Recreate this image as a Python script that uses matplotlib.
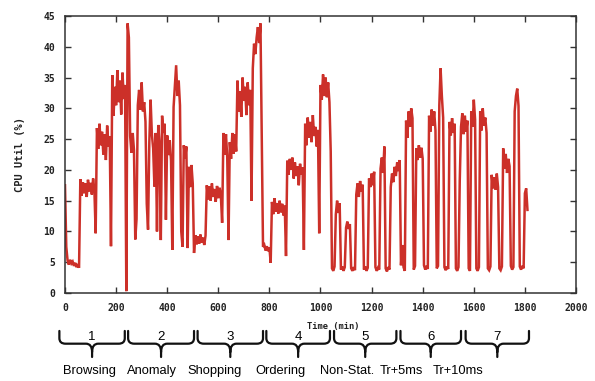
import numpy as np
import matplotlib
matplotlib.use("Agg")
import matplotlib.pyplot as plt
from matplotlib.path import Path
from matplotlib.patches import PathPatch
from matplotlib import transforms


# CPU utilisation (%), one value every 5 minutes, one row per hour
sample_step = 5
cpu_util = [
    17.5, 7.5, 5.3, 4.6, 5.4, 4.8, 5.1, 4.4, 4.9, 4.2, 4.7, 4.1,
    18.5, 15.8, 18.0, 16.2, 17.8, 15.6, 18.4, 16.5, 17.9, 16.0, 18.6, 16.8,
    9.7, 26.8, 23.4, 27.5, 24.0, 26.2, 22.5, 25.8, 21.6, 27.2, 23.8, 25.5,
    7.6, 35.4, 28.8, 33.5, 30.5, 36.2, 31.0, 34.5, 29.0, 35.8, 31.5, 33.8,
    0.3, 43.8, 41.5, 25.5, 22.8, 26.0, 23.2, 8.7, 12.0, 30.5, 33.0, 29.8,
    34.2, 29.5, 31.0, 27.8, 14.5, 10.3, 24.5, 31.4, 25.8, 23.5, 17.3, 26.0,
    10.0, 27.3, 24.2, 8.6, 28.8, 26.0, 27.5, 11.9, 25.6, 22.4, 24.8, 21.5,
    7.0, 30.2, 33.5, 37.0, 32.0, 34.5, 30.5, 10.0, 7.5, 24.0, 21.8, 23.8,
    7.3, 20.5, 17.2, 20.8, 17.8, 6.5, 9.4, 7.9, 9.2, 8.0, 9.5, 8.2,
    9.0, 7.8, 9.3, 17.5, 15.2, 17.3, 15.0, 17.8, 15.6, 16.9, 14.8, 17.4,
    15.4, 17.1, 15.8, 11.4, 26.0, 22.5, 25.8, 22.0, 8.6, 24.5, 21.8, 26.0,
    22.6, 25.8, 23.0, 34.5, 29.5, 32.8, 28.6, 35.0, 31.2, 33.5, 28.9, 34.2,
    30.5, 33.0, 15.0, 36.5, 40.5, 38.8, 41.5, 43.2, 40.6, 43.8, 25.0, 7.5,
    7.8, 6.9, 7.6, 6.8, 7.4, 4.9, 14.8, 12.8, 15.4, 13.2, 14.6, 12.9,
    15.0, 13.1, 14.5, 12.6, 14.2, 6.0, 21.5, 19.2, 21.8, 20.0, 22.0, 18.6,
    21.2, 19.0, 20.6, 17.5, 21.0, 19.2, 20.4, 7.0, 27.5, 24.0, 28.5, 25.2,
    27.8, 24.5, 28.9, 25.5, 27.0, 23.8, 26.5, 9.7, 33.8, 31.4, 35.5, 32.0,
    35.0, 31.8, 34.2, 31.0, 23.0, 4.0, 3.6, 4.3, 12.8, 15.0, 13.0, 14.6,
    3.8, 4.3, 3.6, 4.2, 10.6, 11.6, 10.4, 11.2, 4.0, 3.6, 4.2, 3.7,
    16.0, 17.8, 15.6, 18.2, 16.5, 17.6, 3.8, 4.3, 3.6, 4.1, 18.6, 17.2,
    19.4, 17.5, 19.7, 4.2, 3.6, 4.1, 3.8, 20.2, 22.0, 19.5, 23.8, 4.0,
    3.5, 4.2, 3.8, 17.2, 19.4, 18.0, 20.5, 19.0, 21.2, 19.8, 21.6, 4.5,
    7.8, 4.2, 3.6, 28.0, 25.2, 29.5, 27.0, 30.0, 28.4, 3.8, 4.4, 23.5,
    21.6, 24.0, 22.0, 23.6, 21.8, 4.5, 3.8, 4.4, 3.9, 28.8, 26.2, 29.8,
    27.2, 29.5, 26.4, 4.0, 4.4, 30.5, 36.5, 32.0, 28.5, 4.2, 3.7, 4.3,
    3.9, 27.8, 25.6, 28.4, 26.0, 27.5, 4.0, 3.6, 4.2, 18.2, 27.0, 29.2,
    25.8, 28.8, 26.2, 28.0, 4.0, 3.6, 29.5, 27.0, 31.4, 28.2, 4.0, 3.6,
    4.2, 29.5, 26.4, 30.0, 27.2, 28.5, 26.0, 4.0, 3.7, 4.3, 19.2, 17.0,
    18.8, 16.8, 19.4, 17.2, 4.0, 3.7, 4.3, 23.5, 20.2, 22.6, 19.5, 21.8,
    20.6, 4.4, 3.8, 4.2, 29.5, 32.0, 33.2, 30.4, 4.3, 3.8, 4.4, 4.0,
    16.2, 17.0, 13.5,
]

# workload phases shown under the time axis (minutes)
phase_numbers = ["1", "2", "3", "4", "5", "6", "7"]
phase_names = ["Browsing", "Anomaly", "Shopping", "Ordering",
               "Non-Stat.", "Tr+5ms", "Tr+10ms"]
brace_start = [-22, 247, 519, 788, 1053, 1313, 1568]
brace_end = [234, 505, 775, 1037, 1297, 1550, 1816]
name_x = [94, 341, 585, 845, 1104, 1315, 1538]

x_ticks = [0, 200, 400, 600, 800, 1000, 1200, 1400, 1600, 1800, 2000]
y_ticks = [0, 5, 10, 15, 20, 25, 30, 35, 40, 45]

mono = "DejaVu Sans Mono"
sans = "Liberation Sans"
red = "#cc3029"


def draw_brace(ax, x0, x1, trans, yt=-0.137, ym=-0.183, yb=-0.231, r=24):
    xc = (x0 + x1) / 2.0
    yd = ym - 0.03
    verts = [
        (x0, yt), (x0, ym + 0.02), (x0, ym), (x0 + r, ym),
        (xc - r, ym), (xc, ym), (xc, yd), (xc, yb),
        (xc, yd), (xc, ym), (xc + r, ym), (x1 - r, ym),
        (x1, ym), (x1, ym + 0.02), (x1, yt),
    ]
    codes = [Path.MOVETO, Path.LINETO, Path.CURVE3, Path.CURVE3,
             Path.LINETO, Path.CURVE3, Path.CURVE3, Path.LINETO,
             Path.MOVETO, Path.CURVE3, Path.CURVE3, Path.LINETO,
             Path.CURVE3, Path.CURVE3, Path.LINETO]
    patch = PathPatch(Path(verts, codes), transform=trans, fill=False,
                      edgecolor="#111111", lw=1.6, clip_on=False,
                      capstyle="round", joinstyle="round")
    ax.add_patch(patch)


fig = plt.figure(figsize=(5.95, 3.81), dpi=100)
ax = fig.add_axes([65 / 595, 1 - 293 / 381, 511 / 595, 277 / 381])

t = np.arange(len(cpu_util)) * sample_step
ax.plot(t, cpu_util, color=red, lw=1.8, solid_joinstyle="miter")

ax.set_xlim(0, 2000)
ax.set_ylim(0, 45)
ax.set_xticks(x_ticks)
ax.set_yticks(y_ticks)
ax.tick_params(direction="in", length=4, width=1, top=True, right=True,
               labelsize=7, pad=7, color="#333333")
for lab in ax.get_xticklabels() + ax.get_yticklabels():
    lab.set_family(mono)
    lab.set_fontweight("bold")
    lab.set_color("#222222")
for s in ax.spines.values():
    s.set_color("#333333")
    s.set_linewidth(1.1)

ax.set_ylabel("CPU Util (%)", family=mono, fontweight="bold", fontsize=7.5,
              color="#222222")
ax.yaxis.set_label_coords(-40 / 511, 0.5)
ax.text(0.524, -0.12, "Time (min)", transform=ax.transAxes, ha="center",
        va="center", family=mono, fontweight="bold", fontsize=6.3,
        color="#222222")

# phase braces, numbers and names
bt = transforms.blended_transform_factory(ax.transData, ax.transAxes)
for x0, x1, num in zip(brace_start, brace_end, phase_numbers):
    draw_brace(ax, x0, x1, bt)
    ax.text((x0 + x1) / 2.0, -0.171, num, transform=bt, ha="center",
            va="baseline", family=sans, fontsize=9.5, clip_on=False)
for x, name in zip(name_x, phase_names):
    ax.text(x, -0.2925, name, transform=bt, ha="center", va="baseline",
            family=sans, fontsize=9.3, clip_on=False)

fig.savefig("out.png", dpi=100, facecolor="white")
